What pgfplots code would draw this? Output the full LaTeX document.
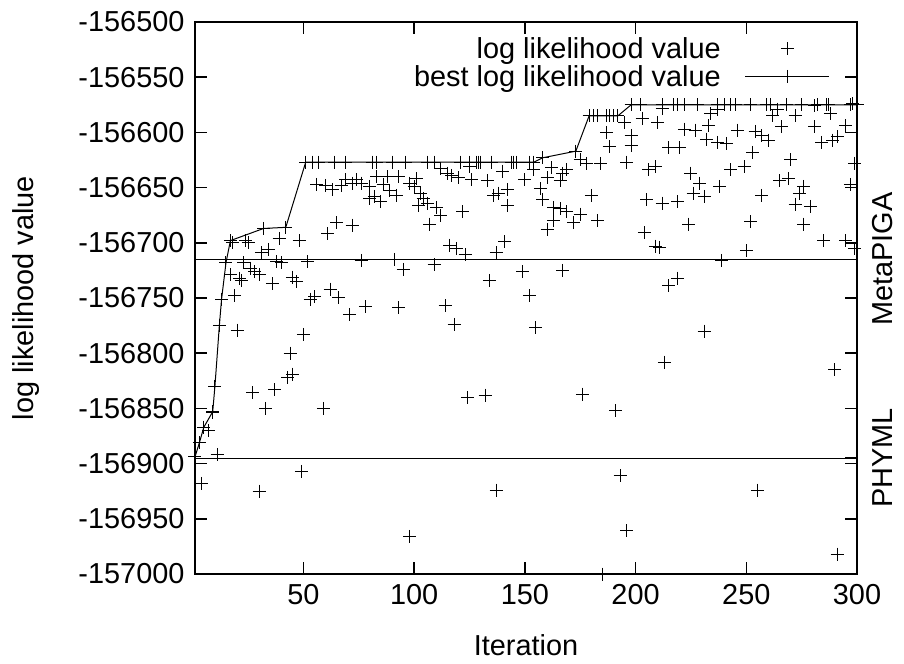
\documentclass[border=0pt]{standalone}
\usepackage{fontspec}
\setmainfont{Liberation Sans}
\usepackage{pgfplots}
\pgfplotsset{compat=1.18}
\begin{document}
\begin{tikzpicture}[font=\fontsize{29}{34}\selectfont]
\begin{axis}[
  at={(0,0)}, anchor=south west,
  scale only axis, width=662bp, height=552bp,
  xmin=1, xmax=300, ymin=-157000, ymax=-156500,
  xtick={50,100,150,200,250,300},
  ytick={-157000,-156950,-156900,-156850,-156800,-156750,-156700,-156650,-156600,-156550,-156500},
  scaled ticks=false,
  /pgf/number format/assume math mode=true,
  /pgf/number format/1000 sep={},
  /pgf/number format/fixed,
  tick align=inside,
  major tick length=12bp,
  every tick/.style={line width=1.6bp, black},
  axis line style={line width=1.6bp},
  yticklabel style={xshift=-7bp},
  xticklabel style={yshift=-7bp},
  extra y ticks={-156715,-156895},
  extra y tick labels={MetaPIGA,PHYML},
  extra y tick style={grid=major, ytick pos=right, yticklabel pos=right,
    yticklabel style={xshift=19bp, rotate=90, anchor=north}},
  major grid style={line width=1bp, black},
  xlabel={Iteration},
  ylabel={log likelihood value},
  xlabel style={at={(axis description cs:0.5,-0.129)}, anchor=center},
  ylabel style={at={(axis description cs:-0.255,0.5)}, anchor=center},
  legend plot pos=right,
  legend cell align=right,
  legend style={at={(axis description cs:0.9592,0.972)}, anchor=north east,
    draw=none, fill=none, inner sep=0pt, column sep=24bp, row sep=5bp,
    nodes={inner sep=0pt}},
  legend image code/.code={\draw[mark repeat=2, mark phase=2, #1]
    plot coordinates {(0bp,0bp) (42bp,0bp) (84bp,0bp)};},
]
% likelihood of every evaluated tree
\addplot[only marks, mark=+, mark size=6.5bp, black, mark options={line width=1bp}] coordinates {
(4,-156918) (7,-156870) (9,-156854) (11,-156892) (17,-156729) (18,-156700)
(19,-156748) (20,-156779) (21,-156732) (22,-156734) (23,-156718) (24,-156698)
(25,-156700) (26,-156723) (27,-156836) (28,-156726) (30,-156729) (30,-156925)
(31,-156709) (33,-156850) (34,-156706) (36,-156737) (37,-156833) (38,-156717)
(39,-156696) (40,-156718) (43,-156822) (44,-156800) (45,-156731) (45,-156819)
(47,-156735) (48,-156698) (49,-156907) (50,-156783) (52,-156717) (53,-156751)
(55,-156749) (56,-156647) (59,-156850) (60,-156648) (61,-156692) (62,-156742)
(63,-156652) (65,-156682) (66,-156750) (67,-156648) (69,-156643) (71,-156765)
(72,-156684) (72,-156646) (74,-156643) (76,-156646) (76,-156716) (78,-156758)
(80,-156649) (80,-156660) (82,-156658) (83,-156640) (85,-156663) (86,-156647)
(88,-156640) (89,-156653) (91,-156715) (92,-156657) (93,-156640) (93,-156759)
(95,-156724) (98,-156646) (98,-156966) (100,-156649) (101,-156642) (102,-156666)
(103,-156655) (104,-156660) (106,-156664) (107,-156683) (109,-156720) (110,-156668)
(112,-156675) (112,-156633) (114,-156757) (115,-156637) (116,-156702) (117,-156639)
(118,-156774) (119,-156705) (120,-156641) (122,-156672) (123,-156711) (124,-156840)
(125,-156631) (126,-156643) (132,-156838) (133,-156644) (134,-156734) (136,-156657)
(137,-156709) (137,-156924) (138,-156655) (140,-156635) (141,-156699) (142,-156652)
(142,-156666) (149,-156726) (150,-156643) (152,-156748) (154,-156634) (155,-156777)
(157,-156651) (158,-156661) (160,-156641) (160,-156688) (162,-156632) (163,-156668)
(163,-156680) (166,-156644) (166,-156669) (167,-156637) (167,-156725) (169,-156634)
(169,-156672) (172,-156682) (175,-156674) (175,-156625) (176,-156837) (178,-156628)
(180,-156657) (183,-156680) (184,-156628) (185,-157000) (187,-156600) (188,-156613)
(191,-156852) (193,-156911) (195,-156591) (196,-156627) (196,-156961) (198,-156603)
(198,-156612) (203,-156587) (204,-156691) (205,-156661) (206,-156634) (209,-156631)
(209,-156703) (211,-156704) (210,-156591) (212,-156578) (212,-156664) (213,-156808)
(215,-156614) (215,-156739) (219,-156663) (219,-156732) (220,-156614) (222,-156597)
(224,-156683) (225,-156637) (226,-156655) (227,-156598) (229,-156646) (231,-156658)
(231,-156780) (232,-156606) (233,-156594) (234,-156583) (237,-156579) (237,-156609)
(238,-156649) (239,-156716) (241,-156610) (243,-156634) (246,-156598) (249,-156631)
(250,-156707) (252,-156681) (253,-156618) (254,-156599) (255,-156924) (257,-156603)
(257,-156657) (260,-156607) (262,-156585) (264,-156579) (265,-156644) (266,-156595)
(269,-156642) (270,-156625) (272,-156585) (272,-156665) (274,-156655) (276,-156649)
(276,-156683) (279,-156667) (281,-156576) (281,-156595) (284,-156609) (285,-156698)
(288,-156583) (289,-156607) (290,-156815) (291,-156604) (291,-156982) (295,-156594)
(295,-156698) (297,-156647) (298,-156574) (299,-156628) (299,-156705)
};
\addlegendentry{log likelihood value}
% running best likelihood
\addplot[mark=+, mark size=6.5bp, black, line width=1bp] coordinates {
(1,-156894) (3,-156881) (5,-156867) (9,-156853) (10,-156830) (12,-156775)
(13,-156751) (15,-156718) (17,-156698) (32,-156687) (42,-156686) (51,-156627)
(54,-156627) (57,-156627) (64,-156627) (69,-156627) (81,-156627) (83,-156627)
(90,-156627) (96,-156627) (106,-156627) (109,-156627) (121,-156627) (125,-156627)
(128,-156627) (129,-156627) (130,-156627) (135,-156627) (144,-156627) (145,-156627)
(146,-156627) (152,-156627) (154,-156627) (158,-156623) (173,-156617) (179,-156585)
(181,-156585) (183,-156585) (187,-156585) (188,-156585) (190,-156585) (192,-156585)
(198,-156575) (202,-156575) (212,-156575) (217,-156575) (219,-156575) (222,-156575)
(228,-156575) (237,-156575) (240,-156575) (243,-156575) (245,-156575) (252,-156575)
(259,-156575) (261,-156575) (268,-156575) (275,-156575) (282,-156575) (286,-156575)
(287,-156575) (297,-156575) (300,-156575)
};
\addlegendentry{best log likelihood value}
\end{axis}
\pgfresetboundingbox
\path[use as bounding box] (-195bp,-90bp) rectangle (709bp,574bp);
\end{tikzpicture}
\end{document}
